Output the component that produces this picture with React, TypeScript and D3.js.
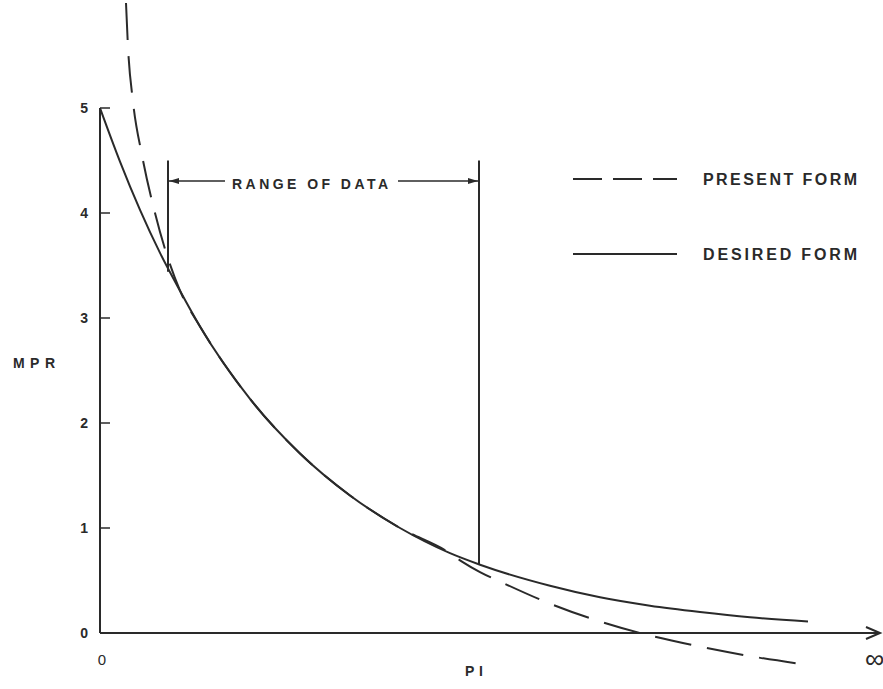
import React from 'react'
import * as d3 from 'd3'

// values (PI in arbitrary units, MPR)
const desiredPI = [0, 0.2, 0.4, 0.6, 0.8, 1.0, 1.5, 2.0, 2.5, 3.0, 3.5, 3.8, 4.5, 5.0, 5.5, 6.0, 6.5, 7.08]
const desiredMPR = [5.0, 4.49, 4.03, 3.62, 3.26, 2.92, 2.23, 1.71, 1.31, 1.0, 0.76, 0.65, 0.45, 0.34, 0.26, 0.2, 0.15, 0.11]

const presentPI = [0.26, 0.28, 0.33, 0.42, 0.55, 0.8, 1.0, 1.5, 2.0, 2.5, 3.0, 3.5, 3.62, 3.8, 4.0, 4.5, 5.0, 5.4, 6.0, 6.5, 7.05]
const presentMPR = [6.0, 5.58, 5.06, 4.55, 4.0, 3.26, 2.92, 2.23, 1.71, 1.31, 1.0, 0.76, 0.68, 0.58, 0.49, 0.28, 0.11, 0.0, -0.13, -0.22, -0.3]

const yTicks = [0, 1, 2, 3, 4, 5]
const dataRange = [0.68, 3.79]      // PI limits of the range of data
const rangeBarTop = 4.5
const rangeBarBottom = [3.44, 0.65]

const legendItems = [
  { label: 'PRESENT FORM', dash: '29,11' },
  { label: 'DESIRED FORM', dash: null },
]

const ink = '#2a2a2a'
const font = 'Liberation Sans, Arial, sans-serif'

export default function App() {
  const x = d3.scaleLinear().domain([0, 7.8]).range([100, 880])
  const y = d3.scaleLinear().domain([0, 5]).range([633, 108])

  const line = d3.line<[number, number]>()
    .x((d) => x(d[0]))
    .y((d) => y(d[1]))
    .curve(d3.curveMonotoneX)

  const desired = desiredPI.map((p, i) => [p, desiredMPR[i]] as [number, number])
  const present = presentPI.map((p, i) => [p, presentMPR[i]] as [number, number])

  const arrowY = 181
  const x0 = x(dataRange[0])
  const x1 = x(dataRange[1])

  return (
    <svg width={883} height={689} style={{ position: 'absolute', left: 0, top: 0, background: '#fff' }}
      fontFamily={font} fill={ink} fontWeight="bold">
      {/* axes */}
      <line x1={x(0)} y1={y(0)} x2={x(0)} y2={y(5)} stroke={ink} strokeWidth={2} />
      <line x1={x(0)} y1={y(0)} x2={878} y2={y(0)} stroke={ink} strokeWidth={2} />
      <path d={`M866,${y(0) - 6} L880,${y(0)} L866,${y(0) + 6}`} fill="none" stroke={ink} strokeWidth={2} />
      {yTicks.map((t) => (
        <g key={t}>
          {t > 0 && <line x1={x(0)} x2={x(0) + 10} y1={y(t)} y2={y(t)} stroke={ink} strokeWidth={1.5} />}
          <text x={88} y={y(t) + 5} fontSize={14} textAnchor="end">{t}</text>
        </g>
      ))}
      <text x={102} y={665} fontSize={15} fontWeight="normal" textAnchor="middle">0</text>
      <text x={865} y={668} fontSize={27} fontWeight="normal">∞</text>
      <text x={465} y={676} fontSize={14} textLength={18} lengthAdjust="spacing">PI</text>
      <text x={13} y={368} fontSize={14} textLength={42} lengthAdjust="spacing">MPR</text>

      {/* curves */}
      <path d={line(desired) || ''} fill="none" stroke={ink} strokeWidth={2} />
      <path d={line(present) || ''} fill="none" stroke={ink} strokeWidth={2} strokeDasharray="37,16" />

      {/* range of data */}
      <line x1={x0} x2={x0} y1={y(rangeBarTop)} y2={y(rangeBarBottom[0])} stroke={ink} strokeWidth={2} />
      <line x1={x1} x2={x1} y1={y(rangeBarTop)} y2={y(rangeBarBottom[1])} stroke={ink} strokeWidth={2} />
      <line x1={x0} x2={225} y1={arrowY} y2={arrowY} stroke={ink} strokeWidth={1.5} />
      <path d={`M${x0 + 1},${arrowY} L${x0 + 11},${arrowY - 3} L${x0 + 11},${arrowY + 3} Z`} />
      <line x1={398} x2={x1} y1={arrowY} y2={arrowY} stroke={ink} strokeWidth={1.5} />
      <path d={`M${x1 - 1},${arrowY} L${x1 - 11},${arrowY - 3} L${x1 - 11},${arrowY + 3} Z`} />
      <text x={232} y={189} fontSize={14} textLength={156} lengthAdjust="spacing">RANGE OF DATA</text>

      {/* legend */}
      {legendItems.map((d, i) => {
        const ly = 179 + i * 75
        return (
          <g key={d.label}>
            <line x1={573} x2={677} y1={ly} y2={ly} stroke={ink} strokeWidth={2}
              strokeDasharray={d.dash || undefined} />
            <text x={703} y={ly + 6} fontSize={16} textLength={154} lengthAdjust="spacing">{d.label}</text>
          </g>
        )
      })}
    </svg>
  )
}
